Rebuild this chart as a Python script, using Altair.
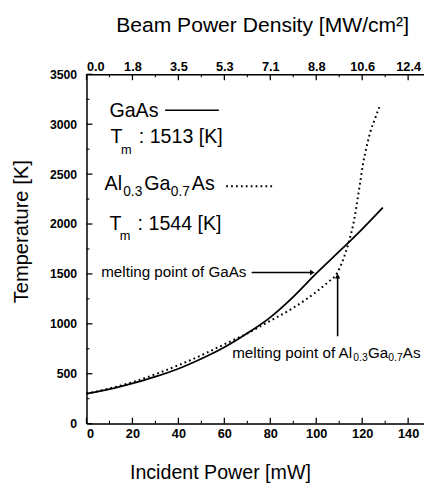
import altair as alt
import pandas as pd

# ---------------- data ----------------
gaas_power = [0, 10, 20, 30, 40, 50, 60, 70, 80, 90, 100, 110, 120, 129]
gaas_temp = [300, 345, 403, 470, 550, 650, 765, 905, 1065, 1270, 1505, 1725, 1950, 2165]

algaas_power = [0, 10, 20, 30, 40, 50, 60, 70, 80, 90, 100, 105, 109, 111, 113, 115,
                116.5, 118, 119, 120.5, 122, 123.5, 125.5, 127.5]
algaas_temp = [300, 352, 415, 495, 585, 685, 795, 905, 1030, 1160, 1320, 1415, 1505, 1600,
               1730, 1890, 2040, 2250, 2400, 2620, 2780, 2920, 3050, 3175]

x_major = [0, 20, 40, 60, 80, 100, 120, 140]
x_minor = [10, 30, 50, 70, 90, 110, 130]
y_major = [0, 500, 1000, 1500, 2000, 2500, 3000, 3500]
y_minor = [250, 750, 1250, 1750, 2250, 2750, 3250]
top_labels = ["0.0", "1.8", "3.5", "5.3", "7.1", "8.8", "10.6", "12.4"]

FONT = "Liberation Sans"
W, H = 344, 356
xs = alt.Scale(domain=[0, 146.9], nice=False, zero=False)
ys = alt.Scale(domain=[0, 3500], nice=False)

df_g = pd.DataFrame({"P": gaas_power, "T": gaas_temp})
df_a = pd.DataFrame({"P": algaas_power, "T": algaas_temp})

bottom_axis = alt.Axis(orient="bottom", values=x_major, ticks=False, grid=False,
                       domainColor="black", domainWidth=1.5,
                       labelFont=FONT, labelFontSize=13, labelFontWeight="bold",
                       labelColor="black", labelPadding=4,
                       title="Incident Power [mW]", titleFont=FONT, titleFontSize=20,
                       titleFontWeight="normal", titleColor="black",
                       titleX=136, titleY=50, titleAlign="center", titleBaseline="middle")
left_axis = alt.Axis(orient="left", values=y_major, ticks=False, grid=False, format="d",
                     domainColor="black", domainWidth=1.5,
                     labelFont=FONT, labelFontSize=12.5, labelFontWeight="bold",
                     labelColor="black", labelPadding=10,
                     title="Temperature [K]", titleFont=FONT, titleFontSize=20.5,
                     titleFontWeight="normal", titleColor="black",
                     titleX=-66, titleY=160, titleAngle=270, titleAlign="center",
                     titleBaseline="middle")
label_array = "[" + ",".join("'%s'" % s for s in top_labels) + "]"
top_axis = alt.Axis(orient="top", values=x_major, ticks=False, grid=False,
                    domainColor="black", domainWidth=1.5,
                    labelFont=FONT, labelFontSize=13, labelFontWeight="bold",
                    labelColor="black", labelPadding=1,
                    labelExpr=label_array + "[round(datum.value/20)]",
                    title="Beam Power Density [MW/cm²]", titleFont=FONT, titleFontSize=21.5,
                    titleFontWeight="normal", titleColor="black",
                    titleX=179, titleY=-50, titleAlign="center", titleBaseline="middle")

solid = alt.Chart(df_g).mark_line(color="black", strokeWidth=1.8, interpolate="monotone").encode(
    x=alt.X("P:Q", scale=xs, axis=bottom_axis),
    y=alt.Y("T:Q", scale=ys, axis=left_axis))

dotted = alt.Chart(df_a).mark_line(color="black", strokeWidth=2, strokeDash=[1.8, 3.2],
                                   interpolate="monotone").encode(
    x=alt.X("P:Q", scale=xs, axis=None),
    y=alt.Y("T:Q", scale=ys, axis=None))

# axes ticks drawn inward
top_major = alt.Chart(pd.DataFrame({"v": x_major})).mark_rule(color="black", strokeWidth=1.3).encode(
    x=alt.X("v:Q", scale=xs, axis=top_axis), y=alt.value(0), y2=alt.value(6))
top_minor = alt.Chart(pd.DataFrame({"v": x_minor})).mark_rule(color="black", strokeWidth=1.1).encode(
    x=alt.X("v:Q", scale=xs, axis=None), y=alt.value(0), y2=alt.value(3))
bot_major = alt.Chart(pd.DataFrame({"v": x_major})).mark_rule(color="black", strokeWidth=1.3).encode(
    x=alt.X("v:Q", scale=xs, axis=None), y=alt.value(H), y2=alt.value(H - 6))
bot_minor = alt.Chart(pd.DataFrame({"v": x_minor})).mark_rule(color="black", strokeWidth=1.1).encode(
    x=alt.X("v:Q", scale=xs, axis=None), y=alt.value(H), y2=alt.value(H - 3))
left_major = alt.Chart(pd.DataFrame({"v": y_major})).mark_rule(color="black", strokeWidth=1.3).encode(
    y=alt.Y("v:Q", scale=ys, axis=None), x=alt.value(0), x2=alt.value(6))
left_minor = alt.Chart(pd.DataFrame({"v": y_minor})).mark_rule(color="black", strokeWidth=1.1).encode(
    y=alt.Y("v:Q", scale=ys, axis=None), x=alt.value(0), x2=alt.value(3))


def txt(x, y, s, size, dx=0, dy=0):
    return alt.Chart(pd.DataFrame({"x": [x], "y": [y], "t": [s]})).mark_text(
        align="left", baseline="middle", font=FONT, fontSize=size, dx=dx, dy=dy,
        color="black").encode(
        x=alt.X("x:Q", scale=xs, axis=None), y=alt.Y("y:Q", scale=ys, axis=None), text="t:N")


def seg(x1, x2, y1, y2, dash=None, width=1.6):
    kw = {"color": "black", "strokeWidth": width}
    if dash:
        kw["strokeDash"] = dash
    return alt.Chart(pd.DataFrame({"x": [x1], "x2": [x2], "y": [y1], "y2": [y2]})).mark_rule(**kw).encode(
        x=alt.X("x:Q", scale=xs, axis=None), x2="x2:Q",
        y=alt.Y("y:Q", scale=ys, axis=None), y2="y2:Q")


def head(x, y, shape):
    return alt.Chart(pd.DataFrame({"x": [x], "y": [y]})).mark_point(
        shape=shape, filled=True, size=30, color="black", opacity=1).encode(
        x=alt.X("x:Q", scale=xs, axis=None), y=alt.Y("y:Q", scale=ys, axis=None))


annot = [
    # legend block
    txt(10.0, 3135, "GaAs", 20),
    seg(34.2, 57.6, 3140, 3140),
    txt(10.5, 2871, "T", 20),
    txt(10.5, 2871, "m", 13, dx=10.5, dy=13),
    txt(10.5, 2871, ": 1513 [K]", 20, dx=28.7),
    txt(7.86, 2396, "Al", 20),
    txt(7.86, 2396, "0.3", 14, dx=19, dy=8),
    txt(7.86, 2396, "Ga", 20, dx=40.5),
    txt(7.86, 2396, "0.7", 14, dx=67.5, dy=8),
    txt(7.86, 2396, "As", 20, dx=89),
    seg(60.8, 81.9, 2379, 2379, dash=[1.8, 3.2], width=2),
    txt(10.0, 2003, "T", 20),
    txt(10.0, 2003, "m", 13, dx=10.5, dy=13),
    txt(10.0, 2003, ": 1544 [K]", 20, dx=28.7),
    # melting point annotations
    txt(6.4, 1514, "melting point of GaAs", 15.5),
    seg(71.9, 97.5, 1514, 1514),
    head(98.3, 1514, "triangle-right"),
    txt(63.4, 708, "melting point of Al", 15.5),
    txt(63.4, 708, "0.3", 10.5, dx=123.5, dy=5),
    txt(63.4, 708, "Ga", 15.5, dx=138.5),
    txt(63.4, 708, "0.7", 10.5, dx=159.2, dy=5),
    txt(63.4, 708, "As", 15.5, dx=174),
    seg(109.3, 109.3, 875, 1470),
    head(109.3, 1478, "triangle-up"),
]

chart = alt.layer(
    solid, dotted, top_major, top_minor, bot_major, bot_minor, left_major, left_minor, *annot
).resolve_axis(x="independent", y="independent").properties(
    width=W, height=H,
    autosize=alt.AutoSizeParams(type="none"),
    padding={"left": 80, "top": 63, "right": 0, "bottom": 60},
).configure_view(stroke=None).configure(background="white")

chart.save("out.html", embed_options={"renderer": "svg", "actions": False})
